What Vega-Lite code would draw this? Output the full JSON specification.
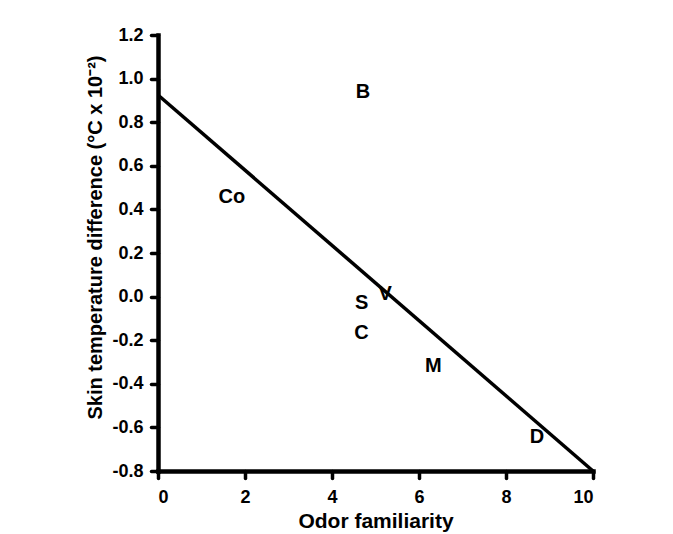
{
  "$schema": "https://vega.github.io/schema/vega-lite/v6.json",
  "autosize": "none",
  "width": 435,
  "height": 436,
  "padding": {"left": 158, "top": 35, "right": 80, "bottom": 63},
  "background": "white",
  "config": {
    "view": {"stroke": null},
    "font": "Liberation Sans",
    "axis": {
      "domainColor": "black",
      "domainWidth": 4.5,
      "domainCap": "square",
      "tickColor": "black",
      "tickWidth": 3.5,
      "tickSize": 7,
      "tickCap": "round",
      "labelFont": "Liberation Sans",
      "labelFontWeight": "bold",
      "labelFontSize": 18,
      "labelColor": "black",
      "titleFont": "Liberation Sans",
      "titleFontWeight": "bold",
      "titleFontSize": 21,
      "titleColor": "black",
      "grid": false
    }
  },
  "datasets": {
    "fit": [
      {"familiarity": 0, "temp": 0.925},
      {"familiarity": 10, "temp": -0.8}
    ],
    "labels": [
      {"odor": "B", "familiarity": 4.71, "temp": 0.94},
      {"odor": "Co", "familiarity": 1.70, "temp": 0.459},
      {"odor": "S", "familiarity": 4.68, "temp": -0.028},
      {"odor": "V", "familiarity": 5.22, "temp": 0.014},
      {"odor": "C", "familiarity": 4.68, "temp": -0.166},
      {"odor": "M", "familiarity": 6.33, "temp": -0.319},
      {"odor": "D", "familiarity": 8.71, "temp": -0.646}
    ]
  },
  "layer": [
    {
      "data": {"name": "fit"},
      "mark": {"type": "line", "color": "black", "strokeWidth": 3.5, "clip": false},
      "encoding": {
        "x": {
          "field": "familiarity",
          "type": "quantitative",
          "scale": {"domain": [0, 10], "nice": false, "zero": false},
          "axis": {
            "values": [0, 2, 4, 6, 8, 10],
            "title": "Odor familiarity",
            "labelPadding": 10,
            "titleY": 56,
            "titleBaseline": "alphabetic"
          }
        },
        "y": {
          "field": "temp",
          "type": "quantitative",
          "scale": {"domain": [-0.8, 1.2], "nice": false, "zero": false},
          "axis": {
            "values": [-0.8, -0.6, -0.4, -0.2, 0, 0.2, 0.4, 0.6, 0.8, 1.0, 1.2],
            "format": ".1f",
            "labelExpr": "replace(datum.label, '\u2212', '-')",
            "title": "Skin temperature difference (°C x 10⁻²)",
            "labelPadding": 8,
            "titleFontSize": 20,
            "titleX": -53,
            "titleY": 202
          }
        }
      }
    },
    {
      "data": {"name": "labels"},
      "mark": {
        "type": "text",
        "font": "Liberation Sans",
        "fontWeight": "bold",
        "fontSize": 20,
        "color": "black",
        "align": "center",
        "baseline": "middle"
      },
      "encoding": {
        "x": {"field": "familiarity", "type": "quantitative"},
        "y": {"field": "temp", "type": "quantitative"},
        "text": {"field": "odor"}
      }
    }
  ]
}
